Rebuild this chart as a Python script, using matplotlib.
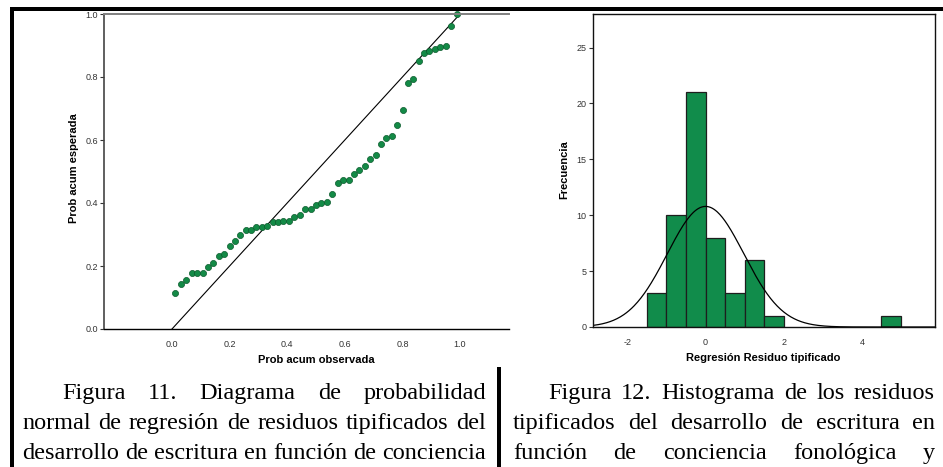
import numpy as np
import matplotlib
matplotlib.use("Agg")
import matplotlib.pyplot as plt
from matplotlib.patches import Rectangle

# --- data ---
# Figura 11: P-P plot (observed vs expected cumulative probability)
obs_prob = [0.012, 0.031, 0.049, 0.068, 0.087, 0.106, 0.124, 0.143, 0.162, 0.181,
            0.200, 0.218, 0.237, 0.256, 0.275, 0.293, 0.312, 0.331, 0.350, 0.369,
            0.387, 0.406, 0.425, 0.444, 0.462, 0.481, 0.500, 0.519, 0.538, 0.556,
            0.575, 0.594, 0.613, 0.632, 0.650, 0.669, 0.688, 0.707, 0.725, 0.744,
            0.763, 0.782, 0.801, 0.819, 0.838, 0.857, 0.876, 0.894, 0.913, 0.932,
            0.951, 0.970, 0.988]
exp_prob = [0.114, 0.143, 0.157, 0.177, 0.177, 0.179, 0.196, 0.211, 0.232, 0.237,
            0.263, 0.279, 0.298, 0.313, 0.313, 0.324, 0.324, 0.328, 0.340, 0.341,
            0.343, 0.343, 0.357, 0.362, 0.382, 0.382, 0.395, 0.401, 0.402, 0.430,
            0.462, 0.473, 0.473, 0.491, 0.506, 0.517, 0.541, 0.551, 0.588, 0.606,
            0.612, 0.647, 0.695, 0.782, 0.795, 0.850, 0.875, 0.883, 0.889, 0.895,
            0.898, 0.963, 1.000]
pp_ticks = [0.0, 0.2, 0.4, 0.6, 0.8, 1.0]

# Figura 12: histogram of standardized residuals
bin_left = [-1.5, -1.0, -0.5, 0.0, 0.5, 1.0, 1.5, 4.5]
bin_count = [3, 10, 21, 8, 3, 6, 1, 1]
bin_width = 0.5
res_mean = 0.0
res_sd = 0.98
n_cases = 53
hist_xticks = [-2, 0, 2, 4]
hist_yticks = [0, 5, 10, 15, 20, 25]

caption_left = ["Figura 11. Diagrama de probabilidad",
                "normal de regresión de residuos tipificados del",
                "desarrollo de escritura en función de conciencia"]
caption_right = ["Figura 12. Histograma de los residuos",
                 "tipificados del desarrollo de escritura en",
                 "función de conciencia fonológica y"]

W, H = 943, 467
plt.rcParams['font.family'] = ['Liberation Sans', 'DejaVu Sans']
plt.rcParams['axes.unicode_minus'] = False
fig = plt.figure(figsize=(W / 100, H / 100), dpi=100)


def px_axes(x0, y0, x1, y1):
    return fig.add_axes([x0 / W, 1 - y1 / H, (x1 - x0) / W, (y1 - y0) / H])


green = "#138a46"
tick_kw = dict(labelsize=6.5, labelcolor="#333333")

# --- left: P-P plot ---
ax1 = px_axes(104, 14, 509, 329)
ax1.plot([0, 1], [0, 1], color="black", lw=0.8)
ax1.plot(obs_prob, exp_prob, "o", ms=4.4, mfc=green, mec="#0b5a2c", mew=0.5, clip_on=False)
ax1.set_xlim(-0.236, 1.170)
ax1.set_ylim(0, 1)
ax1.set_xticks(pp_ticks)
ax1.set_yticks(pp_ticks)
ax1.set_xticklabels(["%.1f" % t for t in pp_ticks])
ax1.set_yticklabels(["%.1f" % t for t in pp_ticks])
ax1.tick_params(axis="y", length=3, width=0.8, pad=1.5, color="#333333", **tick_kw)
ax1.tick_params(axis="x", length=0, pad=8, **tick_kw)
ax1.spines["right"].set_visible(False)
ax1.spines["top"].set_color("#808080")
ax1.spines["top"].set_linewidth(1.4)
ax1.spines["left"].set_color("#444444")
ax1.spines["left"].set_linewidth(1.2)
ax1.spines["bottom"].set_color("black")
ax1.spines["bottom"].set_linewidth(1.0)
ax1.set_xlabel("Prob acum observada", fontsize=8, fontweight="bold")
ax1.set_ylabel("Prob acum esperada", fontsize=8, fontweight="bold")
ax1.xaxis.set_label_coords(0.523, -0.098)
ax1.yaxis.set_label_coords(-0.075, 0.51)
ax1.xaxis.label.set_va("center")
ax1.yaxis.label.set_va("center")

# --- right: histogram ---
ax2 = px_axes(593, 14, 935, 327)
ax2.bar(bin_left, bin_count, width=bin_width, align="edge", color="#118c4b",
        edgecolor="#1e1e1e", linewidth=0.9)
xs = np.linspace(-2.88, 5.87, 400)
curve = n_cases * bin_width * np.exp(-0.5 * ((xs - res_mean) / res_sd) ** 2) / (res_sd * np.sqrt(2 * np.pi))
ax2.plot(xs, curve, color="black", lw=0.9)
ax2.set_xlim(-2.88, 5.87)
ax2.set_ylim(0, 28)
ax2.set_xticks(hist_xticks)
ax2.set_yticks(hist_yticks)
ax2.tick_params(axis="y", length=3, width=0.8, pad=1.5, color="#333333", **tick_kw)
ax2.tick_params(axis="x", length=0, pad=8, **tick_kw)
for s in ax2.spines.values():
    s.set_color("#111111")
    s.set_linewidth(1.0)
ax2.set_xlabel("Regresión Residuo tipificado", fontsize=8, fontweight="bold")
ax2.set_ylabel("Frecuencia", fontsize=8, fontweight="bold")
ax2.xaxis.set_label_coords(0.497, -0.098)
ax2.yaxis.set_label_coords(-0.083, 0.502)
ax2.xaxis.label.set_va("center")
ax2.yaxis.label.set_va("center")

# --- page frame lines ---
def px_rect(x0, y0, x1, y1):
    fig.add_artist(Rectangle((x0 / W, 1 - y1 / H), (x1 - x0) / W, (y1 - y0) / H,
                             transform=fig.transFigure, color="black", lw=0))

px_rect(10, 7, W, 11)
px_rect(10, 7, 13.5, H)
px_rect(497, 367, 501, H)

# --- justified captions ---
renderer = fig.canvas.get_renderer()


def justify(line, x0, x1, y):
    words = line.split()
    texts = [fig.text(0, 1 - y / H, w, fontsize=17.5, family="Liberation Serif",
                      va="baseline", ha="left") for w in words]
    widths = [t.get_window_extent(renderer).width for t in texts]
    gap = (x1 - x0 - sum(widths)) / max(len(words) - 1, 1)
    x = x0
    for t, w in zip(texts, widths):
        t.set_x(x / W)
        x += w + gap


left_rows = [(62, 486, 399), (22, 486, 429), (22, 486, 459)]
right_rows = [(548, 935, 399), (513, 935, 429), (513, 935, 459)]
for line, (x0, x1, y) in zip(caption_left, left_rows):
    justify(line, x0, x1, y)
for line, (x0, x1, y) in zip(caption_right, right_rows):
    justify(line, x0, x1, y)

fig.savefig("out.png", dpi=100)
